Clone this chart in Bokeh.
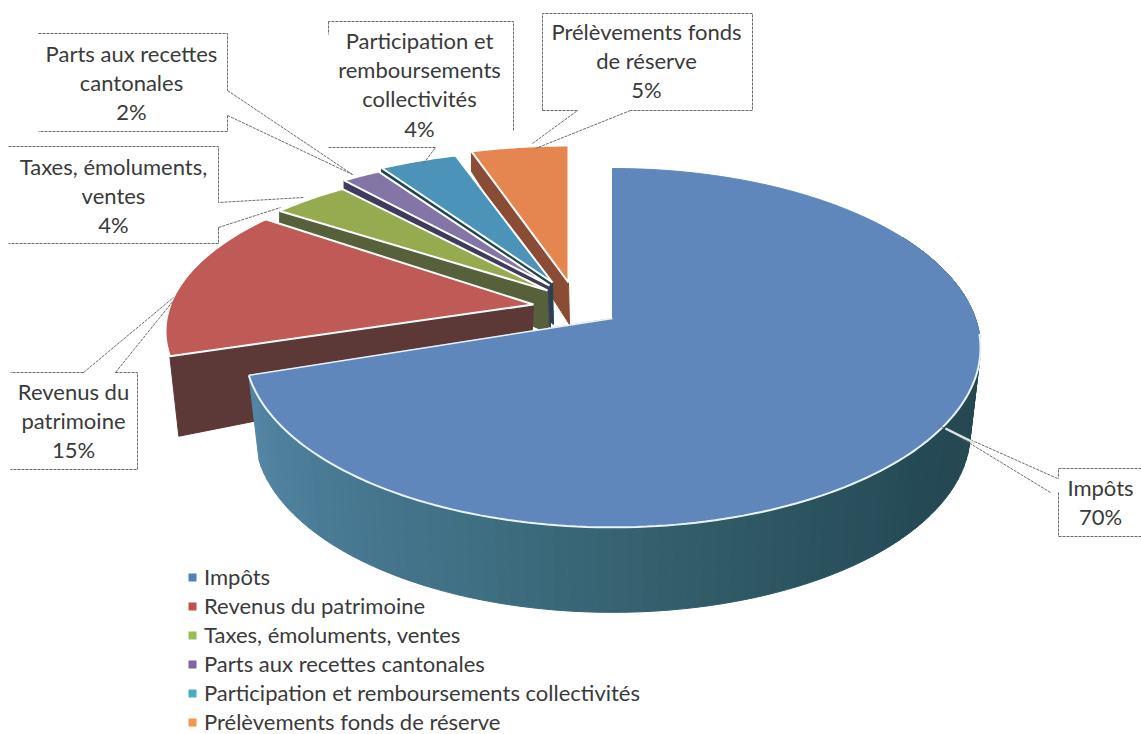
import numpy as np
from bokeh.plotting import figure
from bokeh.models import Range1d, Legend, LegendItem
from bokeh.core.properties import value
from bokeh.embed import file_html
from bokeh.resources import INLINE

categories = ["Impôts", "Revenus du patrimoine", "Taxes, émoluments, ventes",
              "Parts aux recettes cantonales", "Participation et remboursements collectivités",
              "Prélèvements fonds de réserve"]
values = [70, 15, 4, 2, 4, 5]
label_lines = [["Impôts", "70%"], ["Revenus du", "patrimoine", "15%"], ["Taxes, émoluments,", "ventes", "4%"],
               ["Parts aux recettes", "cantonales", "2%"], ["Participation et", "remboursements", "collectivités", "4%"],
               ["Prélèvements fonds", "de réserve", "5%"]]

# --- styling / layout ---
top_colors = ["#5f87bb", "#bf5a56", "#96ab50", "#8376a6", "#4c93b9", "#e58650"]
wall_colors = [None, "#5c3836", "#56603a", "#403a5c", "#1f4452", "#8a4c34"]
legend_colors = ["#4f81bd", "#c0504d", "#9bbb59", "#8064a2", "#4bacc6", "#f79646"]
# explosion apex, y-scale, wall depth at apex / rim
apex = [(612, 318), (533, 304), (547, 290), (549, 285), (552, 282), (568, 282)]
yscale = [1.0, .91, .85, .88, .884, .913]
wall = [None, (62, 80), (42, 14), (42, 14), (42, 16), (42, 20)]
label_x = [1100, 73, 113, 131, 419, 646]
label_y0 = [487, 391, 166, 53, 40, 31]
line_step = 29.2
font = value("Lato")
fs = "22px"
text_col = "#3a3a3a"
k, B, A = 0.164, 363.0, 174.6

def proj(theta_deg, ax, ay, sy=1.0, sx=1.0):
    t = np.radians(theta_deg)
    u, v = np.sin(t), np.cos(t)
    w = 1 + k * v
    return ax + sx * B * u / w, ay - sy * A * v / w

p = figure(width=1141, height=734, x_range=Range1d(0, 1141), y_range=Range1d(734, 0),
           output_backend="svg", toolbar_location=None, x_axis_type=None, y_axis_type=None,
           min_border=0, outline_line_color=None, background_fill_color="white")
p.grid.visible = False

# angular extents
ends = np.cumsum(values) / sum(values) * 360
starts = np.concatenate([[0], ends[:-1]])

# back-to-front: exploded slices
for i in [5, 4, 3, 2, 1]:
    ax, ay = apex[i]
    th = np.linspace(starts[i], ends[i], 40)
    x, y = proj(th, ax, ay, yscale[i])
    da, dr = wall[i]
    # visible wall under the first radial edge
    p.patch([x[0], ax, ax + (1 if i > 1 else -3), x[0] + (9 if i == 1 else 0)],
            [y[0], ay, ay + da, y[0] + dr],
            fill_color=wall_colors[i], line_color=wall_colors[i], line_width=1)
    p.patch(np.r_[ax, x], np.r_[ay, y], fill_color=top_colors[i], line_color="white", line_width=2)

# Impôts: shaded rim built of narrow strips, then the top
ax, ay = apex[0]
rim_stops = [60, 100, 130, 165, 200, 252]
r_s = [0x22, 0x26, 0x25, 0x30, 0x40, 0x55]
g_s = [0x40, 0x47, 0x4a, 0x5a, 0x70, 0x87]
b_s = [0x48, 0x50, 0x56, 0x66, 0x84, 0xa8]
grid = np.linspace(60, ends[0], 97)
depth = 85
for a0, a1 in zip(grid[:-1], grid[1:]):
    tt = np.linspace(a0, a1, 3)
    xt, yt = proj(tt, ax, ay)
    xb, yb = proj(tt, ax, ay + depth, sx=.972, sy=1.0)
    m = (a0 + a1) / 2
    col = "#%02x%02x%02x" % (int(np.interp(m, rim_stops, r_s)), int(np.interp(m, rim_stops, g_s)),
                             int(np.interp(m, rim_stops, b_s)))
    p.patch(np.r_[xt, xb[::-1]], np.r_[yt, yb[::-1]], fill_color=col, line_color=col, line_width=1)
th = np.linspace(0, ends[0], 200)
x, y = proj(th, ax, ay)
p.patch(np.r_[ax, x], np.r_[ay, y], fill_color=top_colors[0], line_color=top_colors[0], line_width=1)
tf = np.linspace(95, ends[0], 120)
xf, yf = proj(tf, ax, ay)
p.line(xf, yf, line_color="#e8f4f8", line_width=2)
xe, ye = proj(np.array([ends[0], 360 + 0.0 * ends[0]]), ax, ay)
p.line([xe[0], ax], [ye[0], ay], line_color="#e8f4f8", line_width=1.5)

# callouts
dash = "3 1"
box_col = "#6a6a6a"
callouts = [
    ([[1141, 1058, 1058], [1057, 938], [1050, 945], [1058, 1058, 1141]],
     [[468, 468, 478], [478, 425], [492, 428], [492, 536, 536]]),
    ([[83, 10], [83, 173], [115, 173], [115, 137, 137, 10]],
     [[372, 372], [372, 297], [372, 300], [372, 372, 469, 469]]),
    ([[8, 218, 218, 303], [218, 280], [218, 218, 8]],
     [[146, 146, 202, 197], [227, 207], [227, 243, 243]]),
    ([[38, 227, 227], [227, 352], [227, 352], [227, 227, 38]],
     [[33, 33, 90], [90, 174], [115, 174], [115, 131, 131]]),
    ([[513, 513, 328], [328, 435, 423], [328, 328]],
     [[130, 21, 21], [147, 147, 163], [21, 34]]),
    ([[542, 542, 752, 752, 630], [630, 535], [542, 577, 532]],
     [[110, 13, 13, 110, 110], [110, 148], [110, 110, 143]]),
]
for xs, ys in callouts:
    p.multi_line(xs, ys, line_color=box_col, line_width=1, line_dash=dash)
for tx, ty in [([945, 975], [428, 443])]:
    p.line(tx, ty, line_color="#dfe6e6", line_width=2.5)

for lines, lx, ly in zip(label_lines, label_x, label_y0):
    for j, s in enumerate(lines):
        p.text([lx], [ly + j * line_step], text=[s], text_font=font, text_font_size=fs,
               text_color=text_col, text_align="center", text_baseline="middle")

# legend
items = []
for c, col in zip(categories, legend_colors):
    r = p.scatter([np.nan], [np.nan], marker="square", size=8, fill_color=col, line_color=None)
    items.append(LegendItem(label=c, renderers=[r]))
leg = Legend(items=items, location=(182, -1), orientation="vertical", padding=0, margin=0, spacing=2,
             glyph_width=20, glyph_height=20, label_height=20, label_standoff=2,
             label_text_font="Lato", label_text_font_size=fs, label_text_color=text_col,
             background_fill_alpha=0, border_line_color=None)
p.add_layout(leg, "center")

open("out.html", "w").write(file_html(p, INLINE))
